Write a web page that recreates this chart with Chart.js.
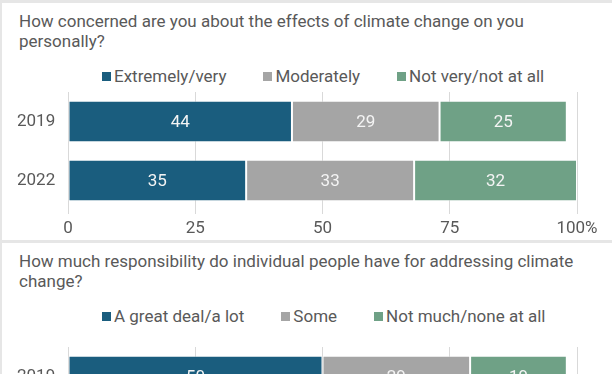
<!DOCTYPE html>
<html>
<head>
<meta charset="utf-8">
<script src="https://cdn.jsdelivr.net/npm/chart.js@4.4.1/dist/chart.umd.min.js"></script>
<style>
  html, body { margin: 0; padding: 0; }
  body { width: 612px; height: 374px; overflow: hidden; background: #e6e6e6; position: relative; font-family: Roboto, sans-serif; }
  .panel { position: absolute; left: 2px; width: 610px; height: 237px; background: #fff; overflow: hidden; }
  .title { position: absolute; left: 17px; top: 8px; font-size: 17px; line-height: 20px; color: #595959; width: 560px; }
  .legend { position: absolute; left: 100px; top: 63px; height: 20px; display: flex; align-items: center; font-size: 17px; color: #595959; white-space: nowrap; }
  .legend span.item { display: flex; align-items: center; margin-right: 37px; }
  .legend span.box { width: 9px; height: 9px; margin-right: 3px; display: inline-block; }
  canvas { position: absolute; left: 0; top: 77px; }
</style>
</head>
<body>
<div class="panel" style="top:3px">
  <div class="title" id="title1"></div>
  <div class="legend" id="legend1"></div>
  <canvas id="chart1" width="610" height="160"></canvas>
</div>
<div class="panel" style="top:243px">
  <div class="title" id="title2"></div>
  <div class="legend" id="legend2"></div>
  <canvas id="chart2" width="610" height="175"></canvas>
</div>
<script>
var colors = ['#1a5d7e', '#a5a5a5', '#6fa186'];
var years = ['2019', '2022'];

// chart 1: concern
var title1 = 'How concerned are you about the effects of climate change on you personally?';
var labels1 = ['Extremely/very', 'Moderately', 'Not very/not at all'];
var extremely = [44, 35];
var moderately = [29, 33];
var notVery = [25, 32];

// chart 2: responsibility (2022 row is below the visible area)
var title2 = 'How much responsibility do individual people have for addressing climate change?';
var labels2 = ['A great deal/a lot', 'Some', 'Not much/none at all'];
var greatDeal = [50, null];
var some = [29, null];
var notMuch = [19, null];

var xTicks = [0, 25, 50, 75, 100];

function buildLegend(id, labels) {
    var el = document.getElementById(id);
    labels.forEach(function (lab, i) {
        var item = document.createElement('span');
        item.className = 'item';
        var box = document.createElement('span');
        box.className = 'box';
        box.style.background = colors[i];
        item.appendChild(box);
        item.appendChild(document.createTextNode(lab));
        el.appendChild(item);
    });
}

var valueLabels = {
    id: 'valueLabels',
    afterDatasetsDraw: function (chart) {
        var ctx = chart.ctx;
        ctx.save();
        ctx.font = '17px Roboto';
        ctx.fillStyle = '#f4f4f4';
        ctx.textAlign = 'center';
        ctx.textBaseline = 'middle';
        chart.data.datasets.forEach(function (ds, i) {
            chart.getDatasetMeta(i).data.forEach(function (bar, j) {
                var v = ds.data[j];
                if (v === null || v === undefined) return;
                ctx.fillText(v, (bar.x + bar.base) / 2, bar.y + 1);
            });
        });
        ctx.restore();
    }
};

function makeChart(id, labels, series, padTop) {
    var datasets = series.map(function (d, i) {
        return {
            label: labels[i],
            data: d,
            backgroundColor: colors[i],
            borderColor: 'rgba(255,255,255,0.45)',
            borderWidth: 1,
            borderSkipped: false,
            categoryPercentage: 1,
            barPercentage: 0.7
        };
    });
    new Chart(document.getElementById(id), {
        type: 'bar',
        data: { labels: years, datasets: datasets },
        plugins: [valueLabels],
        options: {
            indexAxis: 'y',
            responsive: false,
            animation: false,
            devicePixelRatio: 1,
            layout: { padding: { left: 15, right: 35, top: padTop, bottom: 0 } },
            plugins: { legend: { display: false }, title: { display: false }, tooltip: { enabled: false } },
            scales: {
                x: {
                    stacked: true,
                    min: 0,
                    max: 100,
                    afterBuildTicks: function (scale) {
                        scale.ticks = xTicks.map(function (v) { return { value: v }; });
                    },
                    afterFit: function (scale) { scale.height = 30; },
                    ticks: {
                        padding: 5,
                        color: '#595959',
                        font: { family: 'Roboto', size: 17 },
                        maxRotation: 0,
                        callback: function (v) { return v === 100 ? '100%' : v; }
                    },
                    grid: { color: '#d9d9d9', tickLength: 4 },
                    border: { display: false }
                },
                y: {
                    stacked: true,
                    afterFit: function (scale) { scale.width = 51; },
                    ticks: {
                        padding: 0,
                        crossAlign: 'far',
                        color: '#595959',
                        font: { family: 'Roboto', size: 17 }
                    },
                    grid: { display: false },
                    border: { display: false }
                }
            }
        }
    });
}

document.getElementById('title1').textContent = title1;
document.getElementById('title2').textContent = title2;
buildLegend('legend1', labels1);
buildLegend('legend2', labels2);
makeChart('chart1', labels1, [extremely, moderately, notVery], 12);
makeChart('chart2', labels2, [greatDeal, some, notMuch], 27);
</script>
</body>
</html>
